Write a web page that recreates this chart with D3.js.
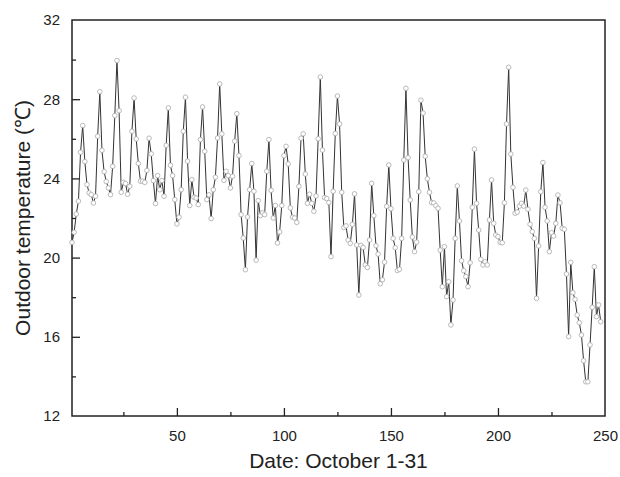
<!DOCTYPE html>
<html>
<head>
<meta charset="utf-8">
<script src="https://cdn.jsdelivr.net/npm/d3@7"></script>
<style>
  html, body { margin: 0; padding: 0; background: #fff; }
  svg { display: block; font-family: "Liberation Sans", Arial, sans-serif; }
</style>
</head>
<body>
<div id="chart"></div>
<script>
// outdoor temperature, 8 readings a day for October 1-31 (x = 1..248)
const temperature = [
  20.77, 21.28, 22.2, 22.85, 25.32, 26.67, 24.85, 23.69, 23.27, 23.18,
  22.76, 23.1, 26.13, 28.38, 25.42, 24.34, 23.84, 23.52, 23.18, 24.61,
  27.17, 29.95, 27.42, 23.3, 23.8, 23.74, 23.2, 23.6, 26.38, 28.06,
  25.99, 24.75, 23.86, 23.86, 23.8, 24.4, 26.03, 25.24, 23.89, 22.73,
  24.14, 23.43, 23.89, 23.1, 25.67, 27.56, 24.66, 24.14, 22.93, 21.7,
  22.04, 23.43, 26.38, 28.1, 24.87, 22.63, 23.94, 23.05, 23.01, 22.68,
  25.96, 27.61, 25.37, 22.93, 23.17, 21.97, 23.43, 24.06, 26.04, 28.77,
  26.25, 23.9, 24.36, 24.14, 23.52, 24.11, 25.88, 27.27, 25.15, 22.17,
  20.99, 19.39, 22.05, 23.43, 24.75, 23.35, 19.87, 22.88, 22.12, 22.26,
  22.17, 24.36, 25.96, 23.4, 22.0, 22.63, 20.74, 21.3, 22.63, 25.15,
  25.62, 24.73, 22.51, 22.04, 22.0, 21.78, 23.6, 26.03, 26.25, 24.22,
  22.74, 23.2, 22.74, 22.34, 23.11, 26.0, 29.12, 25.43, 23.03, 22.98,
  22.78, 20.05, 23.35, 26.27, 28.16, 26.75, 23.3, 21.52, 21.6, 20.89,
  20.72, 21.68, 23.22, 20.64, 18.11, 20.62, 20.51, 19.63, 19.5, 20.89,
  23.75, 22.12, 20.6, 20.18, 18.68, 18.88, 19.77, 22.59, 24.68, 22.47,
  20.97, 20.5, 19.35, 19.41, 20.97, 24.93, 28.55, 25.05, 22.91, 21.04,
  20.3, 20.78, 23.33, 27.95, 27.3, 25.12, 23.98, 23.3, 22.78, 22.76,
  22.62, 22.49, 20.38, 18.53, 20.55, 18.03, 18.78, 16.6, 17.86, 20.97,
  23.62, 21.85, 19.84, 19.34, 19.04, 18.53, 19.74, 22.54, 25.48, 22.74,
  21.39, 19.91, 19.63, 19.79, 19.63, 21.9, 23.92, 21.73, 21.14, 21.06,
  20.77, 20.75, 22.77, 26.75, 29.61, 25.23, 23.55, 22.24, 22.3, 22.6,
  22.74, 22.6, 23.41, 22.44, 21.68, 21.31, 20.97, 17.94, 20.59, 23.33,
  24.8, 22.54, 21.85, 20.3, 21.26, 21.09, 21.73, 23.16, 22.77, 21.48,
  21.43, 19.17, 16.01, 19.76, 18.23, 17.89, 17.1, 16.71, 16.09, 14.79,
  13.73, 13.73, 15.59, 17.49, 19.54, 17.02, 17.61, 16.76
];

const xTicks = [50, 100, 150, 200, 250];
const xMinorTicks = [25, 75, 125, 175, 225];
const yTicks = [12, 16, 20, 24, 28, 32];
const yMinorTicks = [14, 18, 22, 26, 30];

const xTitle = 'Date: October 1-31';
const yTitle = 'Outdoor temperature (℃)';

const width = 620, height = 477;
const margin = {top: 20, right: 15, bottom: 61, left: 72};

const svg = d3.select('#chart').append('svg')
    .attr('width', width)
    .attr('height', height);

const x = d3.scaleLinear().domain([1, 250]).range([margin.left, width - margin.right]);
const y = d3.scaleLinear().domain([12, 32]).range([height - margin.bottom, margin.top]);

const ink = '#222';

// bottom axis, ticks pointing into the plot
const xAxis = svg.append('g')
    .attr('transform', `translate(0,${y(12)})`)
    .call(d3.axisBottom(x).tickValues(xTicks).tickSizeInner(-8).tickSizeOuter(0).tickPadding(14));
svg.append('g')
    .attr('transform', `translate(0,${y(12)})`)
    .call(d3.axisBottom(x).tickValues(xMinorTicks).tickSizeInner(-4).tickSizeOuter(0).tickFormat(''));

const yAxis = svg.append('g')
    .attr('transform', `translate(${x(1)},0)`)
    .call(d3.axisLeft(y).tickValues(yTicks).tickSizeInner(-8).tickSizeOuter(0).tickPadding(12));
svg.append('g')
    .attr('transform', `translate(${x(1)},0)`)
    .call(d3.axisLeft(y).tickValues(yMinorTicks).tickSizeInner(-4).tickSizeOuter(0).tickFormat(''));

svg.selectAll('.domain').remove();
svg.selectAll('.tick line').attr('stroke', ink).attr('stroke-width', 1.3);
svg.selectAll('.tick text')
    .attr('fill', ink)
    .style('font-size', '15px');
// hide tick mark at the right frame edge
xAxis.selectAll('.tick').filter(d => d === 250).select('line').remove();
yAxis.selectAll('.tick').filter(d => d === 12 || d === 32).select('line').remove();

// frame
svg.append('rect')
    .attr('x', x(1))
    .attr('y', y(32))
    .attr('width', x(250) - x(1))
    .attr('height', y(12) - y(32))
    .attr('fill', 'none')
    .attr('stroke', ink)
    .attr('stroke-width', 1.5);

const line = d3.line()
    .x((d, i) => x(i + 1))
    .y(d => y(d));

svg.append('path')
    .datum(temperature)
    .attr('d', line)
    .attr('fill', 'none')
    .attr('stroke', '#333')
    .attr('stroke-width', 1);

svg.append('g')
    .selectAll('circle')
    .data(temperature)
    .join('circle')
    .attr('cx', (d, i) => x(i + 1))
    .attr('cy', d => y(d))
    .attr('r', 2.3)
    .attr('fill', '#fff')
    .attr('stroke', '#a8a8a8')
    .attr('stroke-width', 0.8);

svg.append('text')
    .attr('x', (x(1) + x(250)) / 2)
    .attr('y', 468)
    .attr('text-anchor', 'middle')
    .attr('fill', ink)
    .style('font-size', '21px')
    .text(xTitle);

svg.append('text')
    .attr('transform', `translate(30,${(y(12) + y(32)) / 2}) rotate(-90)`)
    .attr('text-anchor', 'middle')
    .attr('fill', ink)
    .style('font-size', '21px')
    .text(yTitle);
</script>
</body>
</html>
